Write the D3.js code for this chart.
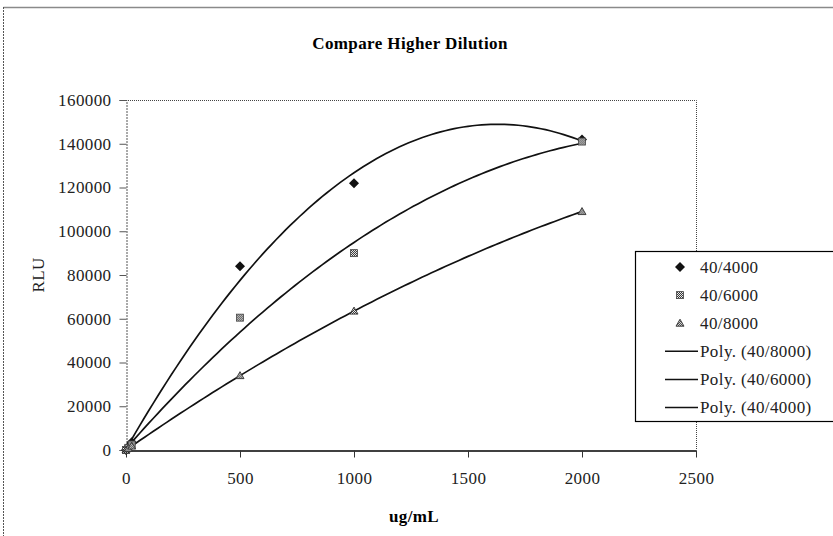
<!DOCTYPE html>
<html>
<head>
<meta charset="utf-8">
<script src="https://cdn.jsdelivr.net/npm/d3@7"></script>
<style>
body { margin: 0; background: #fff; }
svg { display: block; font-family: "Liberation Serif", "Times New Roman", serif; }
svg text { letter-spacing: 0.4px; }
</style>
</head>
<body>
<svg id="chart" width="833" height="536"></svg>
<script>
// data
var concentrations = [0, 10, 25, 500, 1000, 2000];
var rlu4000 = [0, 1500, 3500, 84000, 122000, 142000];
var rlu6000 = [0, 1000, 2500, 60500, 90000, 141000];
var rlu8000 = [0, 700, 1800, 34000, 63500, 109000];
var seriesNames = ['40/4000', '40/6000', '40/8000'];
var trendNames = ['Poly. (40/8000)', 'Poly. (40/6000)', 'Poly. (40/4000)'];
var xTickValues = [0, 500, 1000, 1500, 2000, 2500];
var yTickValues = [0, 20000, 40000, 60000, 80000, 100000, 120000, 140000, 160000];

var svg = d3.select('#chart');
var plot = { left: 126, right: 696, top: 100, bottom: 450 };
var fontSize = 17;

var x = d3.scaleLinear().domain([0, 2500]).range([plot.left, plot.right]);
var y = d3.scaleLinear().domain([0, 160000]).range([plot.bottom, plot.top]);

// least squares, order 2 (like the spreadsheet trendline)
function polyFit(xs, ys) {
    var s = [0, 0, 0, 0, 0], t = [0, 0, 0];
    xs.forEach(function (xv, i) {
        var p = 1;
        for (var k = 0; k < 5; k++) { s[k] += p; if (k < 3) t[k] += p * ys[i]; p *= xv; }
    });
    var m = [[s[0], s[1], s[2], t[0]], [s[1], s[2], s[3], t[1]], [s[2], s[3], s[4], t[2]]];
    for (var c = 0; c < 3; c++) {
        for (var r = c + 1; r < 3; r++) {
            var f = m[r][c] / m[c][c];
            for (var j = c; j < 4; j++) m[r][j] -= f * m[c][j];
        }
    }
    var coef = [0, 0, 0];
    for (var r2 = 2; r2 >= 0; r2--) {
        var v = m[r2][3];
        for (var j2 = r2 + 1; j2 < 3; j2++) v -= m[r2][j2] * coef[j2];
        coef[r2] = v / m[r2][r2];
    }
    return function (xv) { return coef[0] + coef[1] * xv + coef[2] * xv * xv; };
}

// outer chart frame
svg.append('line').attr('x1', 3.5).attr('x2', 833).attr('y1', 7.5).attr('y2', 7.5)
    .attr('stroke', '#8a8a8a').attr('stroke-width', 1.5);
svg.append('line').attr('x1', 3.5).attr('x2', 3.5).attr('y1', 7).attr('y2', 536)
    .attr('stroke', '#555').attr('stroke-width', 1).attr('stroke-dasharray', '2,1');

// hatch pattern for markers
var defs = svg.append('defs');
var pat = defs.append('pattern').attr('id', 'hatch').attr('width', 2).attr('height', 2)
    .attr('patternUnits', 'userSpaceOnUse');
pat.append('rect').attr('width', 2).attr('height', 2).attr('fill', '#fff');
pat.append('rect').attr('width', 1).attr('height', 1).attr('fill', '#222');
pat.append('rect').attr('x', 1).attr('y', 1).attr('width', 1).attr('height', 1).attr('fill', '#222');

// plot border (top/right dotted)
svg.append('path')
    .attr('d', 'M' + plot.left + ',' + (plot.top + 0.5) + 'H' + (plot.right + 0.5) + 'V' + plot.bottom)
    .attr('fill', 'none').attr('stroke', '#444').attr('stroke-width', 1).attr('stroke-dasharray', '1,1');

// y axis
var yAxis = svg.append('g').attr('transform', 'translate(' + (plot.left + 0.5) + ',0)')
    .call(d3.axisLeft(y).tickValues(yTickValues).tickSize(7).tickPadding(8).tickFormat(d3.format('d')));
yAxis.attr('font-family', null).attr('font-size', null);
yAxis.select('.domain').attr('stroke', '#555').attr('stroke-dasharray', '2,1');
yAxis.selectAll('.tick line').attr('stroke', '#555');
yAxis.selectAll('text').attr('font-size', fontSize).attr('fill', '#222');

// x axis
var xAxis = svg.append('g').attr('transform', 'translate(0,' + (plot.bottom + 0.5) + ')')
    .call(d3.axisBottom(x).tickValues(xTickValues).tickSize(7).tickPadding(14).tickSizeOuter(0)
        .tickFormat(d3.format('d')));
xAxis.attr('font-family', null).attr('font-size', null);
xAxis.select('.domain').attr('stroke', '#000').attr('stroke-width', 1.5);
xAxis.selectAll('.tick line').attr('stroke', '#333');
xAxis.selectAll('text').attr('font-size', fontSize).attr('fill', '#222');

// titles
svg.append('text').attr('x', 410).attr('y', 49).attr('text-anchor', 'middle')
    .attr('font-size', fontSize).attr('font-weight', 'bold').text('Compare Higher Dilution');
svg.append('text').attr('x', 414).attr('y', 522).attr('text-anchor', 'middle')
    .attr('font-size', fontSize).attr('font-weight', 'bold').text('ug/mL');
svg.append('text').attr('transform', 'translate(44,275) rotate(-90)').attr('text-anchor', 'middle')
    .attr('font-size', fontSize).attr('fill', '#222').text('RLU');

// trend lines
var allSeries = [rlu4000, rlu6000, rlu8000];
var line = d3.line().x(function (d) { return x(d[0]); }).y(function (d) { return y(d[1]); });
var xMax = d3.max(concentrations);
allSeries.forEach(function (vals) {
    var f = polyFit(concentrations, vals);
    var pts = d3.range(0, 101).map(function (i) { var xv = xMax * i / 100; return [xv, f(xv)]; });
    svg.append('path').attr('d', line(pts)).attr('fill', 'none')
        .attr('stroke', '#111').attr('stroke-width', 1.7);
});

// markers
function drawMarker(g, k) {
    if (k === 0) {
        g.append('path').attr('d', 'M0,-5L5,0L0,5L-5,0Z').attr('fill', '#111');
    } else if (k === 1) {
        g.append('rect').attr('x', -3.5).attr('y', -3.5).attr('width', 7).attr('height', 7)
            .attr('fill', 'url(#hatch)').attr('stroke', '#444').attr('stroke-width', 0.8);
    } else {
        g.append('path').attr('d', 'M0,-4L4,3L-4,3Z').attr('fill', 'url(#hatch)')
            .attr('stroke', '#333').attr('stroke-width', 0.9);
    }
}
allSeries.forEach(function (vals, k) {
    concentrations.forEach(function (c, i) {
        drawMarker(svg.append('g').attr('transform', 'translate(' + x(c) + ',' + y(vals[i]) + ')'), k);
    });
});

// legend
var lg = svg.append('g');
lg.append('rect').attr('x', 635.5).attr('y', 251.5).attr('width', 210).attr('height', 170)
    .attr('fill', '#fff').attr('stroke', '#000').attr('stroke-width', 1.2);
var rowY = function (i) { return 267 + i * 28.1; };
seriesNames.forEach(function (name, k) {
    drawMarker(lg.append('g').attr('transform', 'translate(680,' + rowY(k) + ')'), k);
    lg.append('text').attr('x', 700).attr('y', rowY(k)).attr('dy', '0.35em')
        .attr('font-size', fontSize).attr('fill', '#222').text(name);
});
trendNames.forEach(function (name, j) {
    var yy = rowY(j + 3);
    lg.append('line').attr('x1', 665).attr('x2', 698).attr('y1', yy).attr('y2', yy)
        .attr('stroke', '#111').attr('stroke-width', 1.5);
    lg.append('text').attr('x', 700).attr('y', yy).attr('dy', '0.35em')
        .attr('font-size', fontSize).attr('fill', '#222').text(name);
});
</script>
</body>
</html>
